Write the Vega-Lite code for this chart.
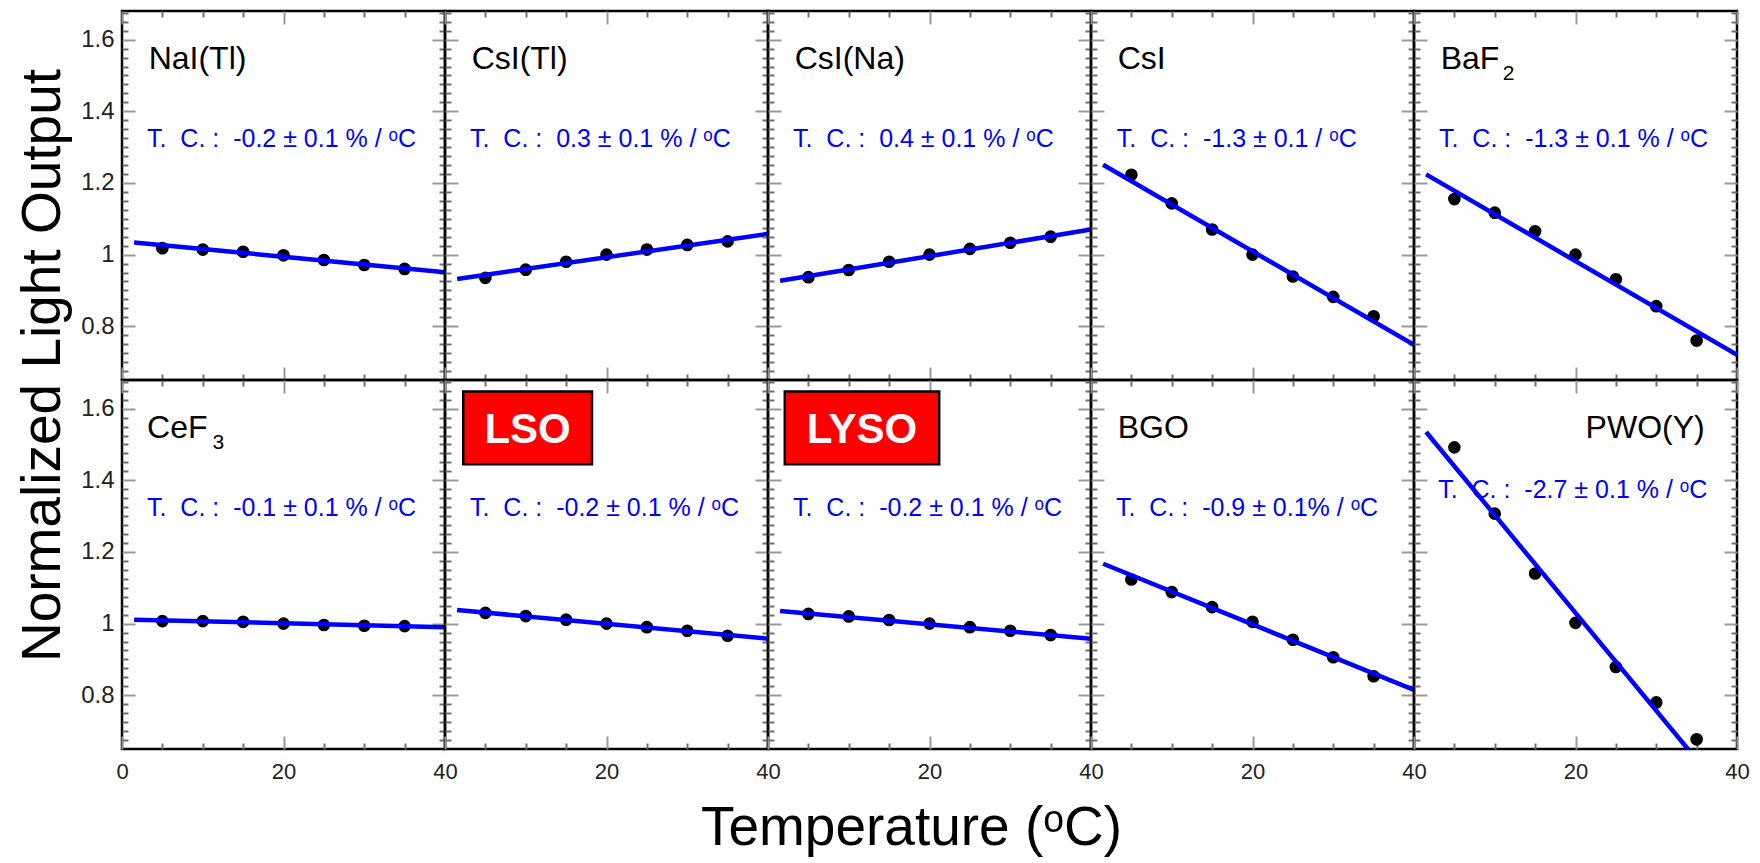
{
  "$schema": "https://vega.github.io/schema/vega-lite/v6.json",
  "background": "white",
  "padding": {"left": 13, "top": 8, "right": 5, "bottom": 0},
  "columns": 5,
  "spacing": 0,
  "bounds": "flush",
  "datasets": {
    "pts": [
      {"crystal": "NaI", "temp": 5, "lo": 1.018}, {"crystal": "NaI", "temp": 10, "lo": 1.014}, {"crystal": "NaI", "temp": 15, "lo": 1.008}, {"crystal": "NaI", "temp": 20, "lo": 0.998}, {"crystal": "NaI", "temp": 25, "lo": 0.985}, {"crystal": "NaI", "temp": 30, "lo": 0.971}, {"crystal": "NaI", "temp": 35, "lo": 0.960},
      {"crystal": "CsITl", "temp": 5, "lo": 0.935}, {"crystal": "CsITl", "temp": 10, "lo": 0.958}, {"crystal": "CsITl", "temp": 15, "lo": 0.980}, {"crystal": "CsITl", "temp": 20, "lo": 1.0}, {"crystal": "CsITl", "temp": 25, "lo": 1.014}, {"crystal": "CsITl", "temp": 30, "lo": 1.027}, {"crystal": "CsITl", "temp": 35, "lo": 1.037},
      {"crystal": "CsINa", "temp": 5, "lo": 0.937}, {"crystal": "CsINa", "temp": 10, "lo": 0.957}, {"crystal": "CsINa", "temp": 15, "lo": 0.980}, {"crystal": "CsINa", "temp": 20, "lo": 1.0}, {"crystal": "CsINa", "temp": 25, "lo": 1.016}, {"crystal": "CsINa", "temp": 30, "lo": 1.033}, {"crystal": "CsINa", "temp": 35, "lo": 1.050},
      {"crystal": "CsI", "temp": 5, "lo": 1.223}, {"crystal": "CsI", "temp": 10, "lo": 1.143}, {"crystal": "CsI", "temp": 15, "lo": 1.070}, {"crystal": "CsI", "temp": 20, "lo": 1.0}, {"crystal": "CsI", "temp": 25, "lo": 0.939}, {"crystal": "CsI", "temp": 30, "lo": 0.882}, {"crystal": "CsI", "temp": 35, "lo": 0.828},
      {"crystal": "BaF2", "temp": 5, "lo": 1.155}, {"crystal": "BaF2", "temp": 10, "lo": 1.117}, {"crystal": "BaF2", "temp": 15, "lo": 1.065}, {"crystal": "BaF2", "temp": 20, "lo": 1.0}, {"crystal": "BaF2", "temp": 25, "lo": 0.931}, {"crystal": "BaF2", "temp": 30, "lo": 0.856}, {"crystal": "BaF2", "temp": 35, "lo": 0.760},
      {"crystal": "CeF3", "temp": 5, "lo": 1.007}, {"crystal": "CeF3", "temp": 10, "lo": 1.007}, {"crystal": "CeF3", "temp": 15, "lo": 1.005}, {"crystal": "CeF3", "temp": 20, "lo": 1.0}, {"crystal": "CeF3", "temp": 25, "lo": 0.996}, {"crystal": "CeF3", "temp": 30, "lo": 0.994}, {"crystal": "CeF3", "temp": 35, "lo": 0.993},
      {"crystal": "LSO", "temp": 5, "lo": 1.030}, {"crystal": "LSO", "temp": 10, "lo": 1.021}, {"crystal": "LSO", "temp": 15, "lo": 1.011}, {"crystal": "LSO", "temp": 20, "lo": 1.0}, {"crystal": "LSO", "temp": 25, "lo": 0.990}, {"crystal": "LSO", "temp": 30, "lo": 0.980}, {"crystal": "LSO", "temp": 35, "lo": 0.966},
      {"crystal": "LYSO", "temp": 5, "lo": 1.027}, {"crystal": "LYSO", "temp": 10, "lo": 1.020}, {"crystal": "LYSO", "temp": 15, "lo": 1.010}, {"crystal": "LYSO", "temp": 20, "lo": 1.0}, {"crystal": "LYSO", "temp": 25, "lo": 0.990}, {"crystal": "LYSO", "temp": 30, "lo": 0.980}, {"crystal": "LYSO", "temp": 35, "lo": 0.968},
      {"crystal": "BGO", "temp": 5, "lo": 1.123}, {"crystal": "BGO", "temp": 10, "lo": 1.088}, {"crystal": "BGO", "temp": 15, "lo": 1.046}, {"crystal": "BGO", "temp": 20, "lo": 1.005}, {"crystal": "BGO", "temp": 25, "lo": 0.955}, {"crystal": "BGO", "temp": 30, "lo": 0.906}, {"crystal": "BGO", "temp": 35, "lo": 0.853},
      {"crystal": "PWO", "temp": 5, "lo": 1.492}, {"crystal": "PWO", "temp": 10, "lo": 1.307}, {"crystal": "PWO", "temp": 15, "lo": 1.140}, {"crystal": "PWO", "temp": 20, "lo": 1.002}, {"crystal": "PWO", "temp": 25, "lo": 0.879}, {"crystal": "PWO", "temp": 30, "lo": 0.780}, {"crystal": "PWO", "temp": 35, "lo": 0.677}
    ],
    "fit": [
      {"crystal": "NaI", "temp": 1.5, "lo": 1.034}, {"crystal": "NaI", "temp": 40, "lo": 0.951},
      {"crystal": "CsITl", "temp": 1.5, "lo": 0.932}, {"crystal": "CsITl", "temp": 40, "lo": 1.058},
      {"crystal": "CsINa", "temp": 1.5, "lo": 0.927}, {"crystal": "CsINa", "temp": 40, "lo": 1.070},
      {"crystal": "CsI", "temp": 1.5, "lo": 1.251}, {"crystal": "CsI", "temp": 40, "lo": 0.748},
      {"crystal": "BaF2", "temp": 1.5, "lo": 1.224}, {"crystal": "BaF2", "temp": 40, "lo": 0.720},
      {"crystal": "CeF3", "temp": 1.5, "lo": 1.011}, {"crystal": "CeF3", "temp": 40, "lo": 0.990},
      {"crystal": "LSO", "temp": 1.5, "lo": 1.038}, {"crystal": "LSO", "temp": 40, "lo": 0.958},
      {"crystal": "LYSO", "temp": 1.5, "lo": 1.035}, {"crystal": "LYSO", "temp": 40, "lo": 0.958},
      {"crystal": "BGO", "temp": 1.5, "lo": 1.167}, {"crystal": "BGO", "temp": 40, "lo": 0.815},
      {"crystal": "PWO", "temp": 1.5, "lo": 1.535}, {"crystal": "PWO", "temp": 40, "lo": 0.484}
    ],
    "info": [
      {"crystal": "NaI", "name": "NaI(Tl)", "sub": "", "tc": "T.\u00a0\u00a0C.\u00a0:\u00a0\u00a0-0.2\u00a0±\u00a00.1\u00a0%\u00a0/\u00a0ᵒC"},
      {"crystal": "CsITl", "name": "CsI(Tl)", "sub": "", "tc": "T.\u00a0\u00a0C.\u00a0:\u00a0\u00a00.3\u00a0±\u00a00.1\u00a0%\u00a0/\u00a0ᵒC"},
      {"crystal": "CsINa", "name": "CsI(Na)", "sub": "", "tc": "T.\u00a0\u00a0C.\u00a0:\u00a0\u00a00.4\u00a0±\u00a00.1\u00a0%\u00a0/\u00a0ᵒC"},
      {"crystal": "CsI", "name": "CsI", "sub": "", "tc": "T.\u00a0\u00a0C.\u00a0:\u00a0\u00a0-1.3\u00a0±\u00a00.1\u00a0/\u00a0ᵒC"},
      {"crystal": "BaF2", "name": "BaF", "sub": "2", "tc": "T.\u00a0\u00a0C.\u00a0:\u00a0\u00a0-1.3\u00a0±\u00a00.1\u00a0%\u00a0/\u00a0ᵒC"},
      {"crystal": "CeF3", "name": "CeF", "sub": "3", "tc": "T.\u00a0\u00a0C.\u00a0:\u00a0\u00a0-0.1\u00a0±\u00a00.1\u00a0%\u00a0/\u00a0ᵒC"},
      {"crystal": "LSO", "name": "LSO", "sub": "", "tc": "T.\u00a0\u00a0C.\u00a0:\u00a0\u00a0-0.2\u00a0±\u00a00.1\u00a0%\u00a0/\u00a0ᵒC"},
      {"crystal": "LYSO", "name": "LYSO", "sub": "", "tc": "T.\u00a0\u00a0C.\u00a0:\u00a0\u00a0-0.2\u00a0±\u00a00.1\u00a0%\u00a0/\u00a0ᵒC"},
      {"crystal": "BGO", "name": "BGO", "sub": "", "tc": "T.\u00a0\u00a0C.\u00a0:\u00a0\u00a0-0.9\u00a0±\u00a00.1%\u00a0/\u00a0ᵒC"},
      {"crystal": "PWO", "name": "PWO(Y)", "sub": "", "tc": "T.\u00a0\u00a0C.\u00a0:\u00a0\u00a0-2.7\u00a0±\u00a00.1\u00a0%\u00a0/\u00a0ᵒC"}
    ]
  },
  "concat": [
    {
      "width": 323, "height": 369,
      "layer": [
        {"data": {"name": "pts"}, "transform": [{"filter": "datum.crystal === 'NaI'"}],
         "mark": {"type": "circle", "color": "black", "size": 160, "opacity": 1},
         "encoding": {
           "x": {"field": "temp", "type": "quantitative", "scale": {"domain": [0, 40], "nice": false}, "axis": {"orient": "bottom", "values": [0, 20, 40], "tickSize": -13, "tickColor": "#999999", "labels": false, "title": null}},
           "y": {"field": "lo", "type": "quantitative", "scale": {"domain": [0.65, 1.68], "nice": false, "zero": false}, "axis": {"orient": "left", "values": [0.8, 1, 1.2, 1.4, 1.6], "tickSize": -13, "tickColor": "#999999", "labels": true, "labelExpr": "format(datum.value, '.1~f')", "labelPadding": 21, "title": "Normalized Light Output", "titleX": -80, "titleY": 354, "titleAngle": -90, "titleAlign": "center", "titleBaseline": "middle"}}
         }},
        {"data": {"name": "fit"}, "transform": [{"filter": "datum.crystal === 'NaI'"}],
         "mark": {"type": "line", "color": "#0000ff", "strokeWidth": 4.5, "clip": true},
         "encoding": {
           "x": {"field": "temp", "type": "quantitative", "axis": {"orient": "bottom", "values": [5, 10, 15, 25, 30, 35], "tickSize": -6, "labels": false, "title": null}},
           "y": {"field": "lo", "type": "quantitative", "axis": {"orient": "left", "values": [0.675,0.7,0.725,0.75,0.775,0.825,0.85,0.875,0.9,0.925,0.95,0.975,1.025,1.05,1.075,1.1,1.125,1.15,1.175,1.225,1.25,1.275,1.3,1.325,1.35,1.375,1.425,1.45,1.475,1.5,1.525,1.55,1.575,1.625,1.65,1.675], "tickSize": -6, "labels": false, "title": null}}
         }},
        {"data": {"name": "info"}, "transform": [{"filter": "datum.crystal === 'NaI'"}],
         "mark": {"type": "text", "align": "left", "baseline": "alphabetic", "fontSize": 32, "color": "black"},
         "encoding": {
           "x": {"datum": 3.3, "type": "quantitative", "axis": {"orient": "top", "values": [0, 20, 40], "tickSize": -13, "tickColor": "#999999", "labels": false, "title": null}},
           "y": {"datum": 1.517, "type": "quantitative", "axis": {"orient": "right", "values": [0.8, 1, 1.2, 1.4, 1.6], "tickSize": -13, "tickColor": "#999999", "labels": false, "title": null}},
           "text": {"field": "name"}}},
        {"data": {"name": "info"}, "transform": [{"filter": "datum.crystal === 'NaI'"}],
         "mark": {"type": "text", "align": "left", "baseline": "alphabetic", "fontSize": 25, "color": "#0000ff"},
         "encoding": {
           "x": {"datum": 3.1, "type": "quantitative", "axis": {"orient": "top", "values": [5, 10, 15, 25, 30, 35], "tickSize": -6, "labels": false, "title": null}},
           "y": {"datum": 1.30, "type": "quantitative", "axis": {"orient": "right", "values": [0.675,0.7,0.725,0.75,0.775,0.825,0.85,0.875,0.9,0.925,0.95,0.975,1.025,1.05,1.075,1.1,1.125,1.15,1.175,1.225,1.25,1.275,1.3,1.325,1.35,1.375,1.425,1.45,1.475,1.5,1.525,1.55,1.575,1.625,1.65,1.675], "tickSize": -6, "labels": false, "title": null}},
           "text": {"field": "tc"}}}
      ],
      "resolve": {"axis": {"x": "independent", "y": "independent"}}
    },
    {
      "width": 323, "height": 369,
      "layer": [
        {"data": {"name": "pts"}, "transform": [{"filter": "datum.crystal === 'CsITl'"}],
         "mark": {"type": "circle", "color": "black", "size": 160, "opacity": 1},
         "encoding": {
           "x": {"field": "temp", "type": "quantitative", "scale": {"domain": [0, 40], "nice": false}, "axis": {"orient": "bottom", "values": [0, 20, 40], "tickSize": -13, "tickColor": "#999999", "labels": false, "title": null}},
           "y": {"field": "lo", "type": "quantitative", "scale": {"domain": [0.65, 1.68], "nice": false, "zero": false}, "axis": {"orient": "left", "values": [0.8, 1, 1.2, 1.4, 1.6], "tickSize": -13, "tickColor": "#999999", "labels": false, "title": null}}
         }},
        {"data": {"name": "fit"}, "transform": [{"filter": "datum.crystal === 'CsITl'"}],
         "mark": {"type": "line", "color": "#0000ff", "strokeWidth": 4.5, "clip": true},
         "encoding": {
           "x": {"field": "temp", "type": "quantitative", "axis": {"orient": "bottom", "values": [5, 10, 15, 25, 30, 35], "tickSize": -6, "labels": false, "title": null}},
           "y": {"field": "lo", "type": "quantitative", "axis": {"orient": "left", "values": [0.675,0.7,0.725,0.75,0.775,0.825,0.85,0.875,0.9,0.925,0.95,0.975,1.025,1.05,1.075,1.1,1.125,1.15,1.175,1.225,1.25,1.275,1.3,1.325,1.35,1.375,1.425,1.45,1.475,1.5,1.525,1.55,1.575,1.625,1.65,1.675], "tickSize": -6, "labels": false, "title": null}}
         }},
        {"data": {"name": "info"}, "transform": [{"filter": "datum.crystal === 'CsITl'"}],
         "mark": {"type": "text", "align": "left", "baseline": "alphabetic", "fontSize": 32, "color": "black"},
         "encoding": {
           "x": {"datum": 3.3, "type": "quantitative", "axis": {"orient": "top", "values": [0, 20, 40], "tickSize": -13, "tickColor": "#999999", "labels": false, "title": null}},
           "y": {"datum": 1.517, "type": "quantitative", "axis": {"orient": "right", "values": [0.8, 1, 1.2, 1.4, 1.6], "tickSize": -13, "tickColor": "#999999", "labels": false, "title": null}},
           "text": {"field": "name"}}},
        {"data": {"name": "info"}, "transform": [{"filter": "datum.crystal === 'CsITl'"}],
         "mark": {"type": "text", "align": "left", "baseline": "alphabetic", "fontSize": 25, "color": "#0000ff"},
         "encoding": {
           "x": {"datum": 3.1, "type": "quantitative", "axis": {"orient": "top", "values": [5, 10, 15, 25, 30, 35], "tickSize": -6, "labels": false, "title": null}},
           "y": {"datum": 1.30, "type": "quantitative", "axis": {"orient": "right", "values": [0.675,0.7,0.725,0.75,0.775,0.825,0.85,0.875,0.9,0.925,0.95,0.975,1.025,1.05,1.075,1.1,1.125,1.15,1.175,1.225,1.25,1.275,1.3,1.325,1.35,1.375,1.425,1.45,1.475,1.5,1.525,1.55,1.575,1.625,1.65,1.675], "tickSize": -6, "labels": false, "title": null}},
           "text": {"field": "tc"}}}
      ],
      "resolve": {"axis": {"x": "independent", "y": "independent"}}
    },
    {
      "width": 323, "height": 369,
      "layer": [
        {"data": {"name": "pts"}, "transform": [{"filter": "datum.crystal === 'CsINa'"}],
         "mark": {"type": "circle", "color": "black", "size": 160, "opacity": 1},
         "encoding": {
           "x": {"field": "temp", "type": "quantitative", "scale": {"domain": [0, 40], "nice": false}, "axis": {"orient": "bottom", "values": [0, 20, 40], "tickSize": -13, "tickColor": "#999999", "labels": false, "title": null}},
           "y": {"field": "lo", "type": "quantitative", "scale": {"domain": [0.65, 1.68], "nice": false, "zero": false}, "axis": {"orient": "left", "values": [0.8, 1, 1.2, 1.4, 1.6], "tickSize": -13, "tickColor": "#999999", "labels": false, "title": null}}
         }},
        {"data": {"name": "fit"}, "transform": [{"filter": "datum.crystal === 'CsINa'"}],
         "mark": {"type": "line", "color": "#0000ff", "strokeWidth": 4.5, "clip": true},
         "encoding": {
           "x": {"field": "temp", "type": "quantitative", "axis": {"orient": "bottom", "values": [5, 10, 15, 25, 30, 35], "tickSize": -6, "labels": false, "title": null}},
           "y": {"field": "lo", "type": "quantitative", "axis": {"orient": "left", "values": [0.675,0.7,0.725,0.75,0.775,0.825,0.85,0.875,0.9,0.925,0.95,0.975,1.025,1.05,1.075,1.1,1.125,1.15,1.175,1.225,1.25,1.275,1.3,1.325,1.35,1.375,1.425,1.45,1.475,1.5,1.525,1.55,1.575,1.625,1.65,1.675], "tickSize": -6, "labels": false, "title": null}}
         }},
        {"data": {"name": "info"}, "transform": [{"filter": "datum.crystal === 'CsINa'"}],
         "mark": {"type": "text", "align": "left", "baseline": "alphabetic", "fontSize": 32, "color": "black"},
         "encoding": {
           "x": {"datum": 3.3, "type": "quantitative", "axis": {"orient": "top", "values": [0, 20, 40], "tickSize": -13, "tickColor": "#999999", "labels": false, "title": null}},
           "y": {"datum": 1.517, "type": "quantitative", "axis": {"orient": "right", "values": [0.8, 1, 1.2, 1.4, 1.6], "tickSize": -13, "tickColor": "#999999", "labels": false, "title": null}},
           "text": {"field": "name"}}},
        {"data": {"name": "info"}, "transform": [{"filter": "datum.crystal === 'CsINa'"}],
         "mark": {"type": "text", "align": "left", "baseline": "alphabetic", "fontSize": 25, "color": "#0000ff"},
         "encoding": {
           "x": {"datum": 3.1, "type": "quantitative", "axis": {"orient": "top", "values": [5, 10, 15, 25, 30, 35], "tickSize": -6, "labels": false, "title": null}},
           "y": {"datum": 1.30, "type": "quantitative", "axis": {"orient": "right", "values": [0.675,0.7,0.725,0.75,0.775,0.825,0.85,0.875,0.9,0.925,0.95,0.975,1.025,1.05,1.075,1.1,1.125,1.15,1.175,1.225,1.25,1.275,1.3,1.325,1.35,1.375,1.425,1.45,1.475,1.5,1.525,1.55,1.575,1.625,1.65,1.675], "tickSize": -6, "labels": false, "title": null}},
           "text": {"field": "tc"}}}
      ],
      "resolve": {"axis": {"x": "independent", "y": "independent"}}
    },
    {
      "width": 323, "height": 369,
      "layer": [
        {"data": {"name": "pts"}, "transform": [{"filter": "datum.crystal === 'CsI'"}],
         "mark": {"type": "circle", "color": "black", "size": 160, "opacity": 1},
         "encoding": {
           "x": {"field": "temp", "type": "quantitative", "scale": {"domain": [0, 40], "nice": false}, "axis": {"orient": "bottom", "values": [0, 20, 40], "tickSize": -13, "tickColor": "#999999", "labels": false, "title": null}},
           "y": {"field": "lo", "type": "quantitative", "scale": {"domain": [0.65, 1.68], "nice": false, "zero": false}, "axis": {"orient": "left", "values": [0.8, 1, 1.2, 1.4, 1.6], "tickSize": -13, "tickColor": "#999999", "labels": false, "title": null}}
         }},
        {"data": {"name": "fit"}, "transform": [{"filter": "datum.crystal === 'CsI'"}],
         "mark": {"type": "line", "color": "#0000ff", "strokeWidth": 4.5, "clip": true},
         "encoding": {
           "x": {"field": "temp", "type": "quantitative", "axis": {"orient": "bottom", "values": [5, 10, 15, 25, 30, 35], "tickSize": -6, "labels": false, "title": null}},
           "y": {"field": "lo", "type": "quantitative", "axis": {"orient": "left", "values": [0.675,0.7,0.725,0.75,0.775,0.825,0.85,0.875,0.9,0.925,0.95,0.975,1.025,1.05,1.075,1.1,1.125,1.15,1.175,1.225,1.25,1.275,1.3,1.325,1.35,1.375,1.425,1.45,1.475,1.5,1.525,1.55,1.575,1.625,1.65,1.675], "tickSize": -6, "labels": false, "title": null}}
         }},
        {"data": {"name": "info"}, "transform": [{"filter": "datum.crystal === 'CsI'"}],
         "mark": {"type": "text", "align": "left", "baseline": "alphabetic", "fontSize": 32, "color": "black"},
         "encoding": {
           "x": {"datum": 3.3, "type": "quantitative", "axis": {"orient": "top", "values": [0, 20, 40], "tickSize": -13, "tickColor": "#999999", "labels": false, "title": null}},
           "y": {"datum": 1.517, "type": "quantitative", "axis": {"orient": "right", "values": [0.8, 1, 1.2, 1.4, 1.6], "tickSize": -13, "tickColor": "#999999", "labels": false, "title": null}},
           "text": {"field": "name"}}},
        {"data": {"name": "info"}, "transform": [{"filter": "datum.crystal === 'CsI'"}],
         "mark": {"type": "text", "align": "left", "baseline": "alphabetic", "fontSize": 25, "color": "#0000ff"},
         "encoding": {
           "x": {"datum": 3.2, "type": "quantitative", "axis": {"orient": "top", "values": [5, 10, 15, 25, 30, 35], "tickSize": -6, "labels": false, "title": null}},
           "y": {"datum": 1.30, "type": "quantitative", "axis": {"orient": "right", "values": [0.675,0.7,0.725,0.75,0.775,0.825,0.85,0.875,0.9,0.925,0.95,0.975,1.025,1.05,1.075,1.1,1.125,1.15,1.175,1.225,1.25,1.275,1.3,1.325,1.35,1.375,1.425,1.45,1.475,1.5,1.525,1.55,1.575,1.625,1.65,1.675], "tickSize": -6, "labels": false, "title": null}},
           "text": {"field": "tc"}}}
      ],
      "resolve": {"axis": {"x": "independent", "y": "independent"}}
    },
    {
      "width": 323, "height": 369,
      "layer": [
        {"data": {"name": "pts"}, "transform": [{"filter": "datum.crystal === 'BaF2'"}],
         "mark": {"type": "circle", "color": "black", "size": 160, "opacity": 1},
         "encoding": {
           "x": {"field": "temp", "type": "quantitative", "scale": {"domain": [0, 40], "nice": false}, "axis": {"orient": "bottom", "values": [0, 20, 40], "tickSize": -13, "tickColor": "#999999", "labels": false, "title": null}},
           "y": {"field": "lo", "type": "quantitative", "scale": {"domain": [0.65, 1.68], "nice": false, "zero": false}, "axis": {"orient": "left", "values": [0.8, 1, 1.2, 1.4, 1.6], "tickSize": -13, "tickColor": "#999999", "labels": false, "title": null}}
         }},
        {"data": {"name": "fit"}, "transform": [{"filter": "datum.crystal === 'BaF2'"}],
         "mark": {"type": "line", "color": "#0000ff", "strokeWidth": 4.5, "clip": true},
         "encoding": {
           "x": {"field": "temp", "type": "quantitative", "axis": {"orient": "bottom", "values": [5, 10, 15, 25, 30, 35], "tickSize": -6, "labels": false, "title": null}},
           "y": {"field": "lo", "type": "quantitative", "axis": {"orient": "left", "values": [0.675,0.7,0.725,0.75,0.775,0.825,0.85,0.875,0.9,0.925,0.95,0.975,1.025,1.05,1.075,1.1,1.125,1.15,1.175,1.225,1.25,1.275,1.3,1.325,1.35,1.375,1.425,1.45,1.475,1.5,1.525,1.55,1.575,1.625,1.65,1.675], "tickSize": -6, "labels": false, "title": null}}
         }},
        {"data": {"name": "info"}, "transform": [{"filter": "datum.crystal === 'BaF2'"}],
         "mark": {"type": "text", "align": "left", "baseline": "alphabetic", "fontSize": 32, "color": "black"},
         "encoding": {
           "x": {"datum": 3.3, "type": "quantitative", "axis": {"orient": "top", "values": [0, 20, 40], "tickSize": -13, "tickColor": "#999999", "labels": false, "title": null}},
           "y": {"datum": 1.517, "type": "quantitative", "axis": {"orient": "right", "values": [0.8, 1, 1.2, 1.4, 1.6], "tickSize": -13, "tickColor": "#999999", "labels": false, "title": null}},
           "text": {"field": "name"}}},
        {"data": {"name": "info"}, "transform": [{"filter": "datum.crystal === 'BaF2'"}],
         "mark": {"type": "text", "align": "left", "baseline": "alphabetic", "fontSize": 21, "color": "black"},
         "encoding": {"x": {"datum": 11.0, "type": "quantitative", "axis": null}, "y": {"datum": 1.488, "type": "quantitative", "axis": null}, "text": {"field": "sub"}}},
        {"data": {"name": "info"}, "transform": [{"filter": "datum.crystal === 'BaF2'"}],
         "mark": {"type": "text", "align": "left", "baseline": "alphabetic", "fontSize": 25, "color": "#0000ff"},
         "encoding": {
           "x": {"datum": 3.1, "type": "quantitative", "axis": {"orient": "top", "values": [5, 10, 15, 25, 30, 35], "tickSize": -6, "labels": false, "title": null}},
           "y": {"datum": 1.30, "type": "quantitative", "axis": {"orient": "right", "values": [0.675,0.7,0.725,0.75,0.775,0.825,0.85,0.875,0.9,0.925,0.95,0.975,1.025,1.05,1.075,1.1,1.125,1.15,1.175,1.225,1.25,1.275,1.3,1.325,1.35,1.375,1.425,1.45,1.475,1.5,1.525,1.55,1.575,1.625,1.65,1.675], "tickSize": -6, "labels": false, "title": null}},
           "text": {"field": "tc"}}}
      ],
      "resolve": {"axis": {"x": "independent", "y": "independent"}}
    },
    {
      "width": 323, "height": 369,
      "layer": [
        {"data": {"name": "pts"}, "transform": [{"filter": "datum.crystal === 'CeF3'"}],
         "mark": {"type": "circle", "color": "black", "size": 160, "opacity": 1},
         "encoding": {
           "x": {"field": "temp", "type": "quantitative", "scale": {"domain": [0, 40], "nice": false}, "axis": {"orient": "bottom", "values": [0, 20, 40], "tickSize": -13, "tickColor": "#999999", "labels": true, "labelPadding": 25, "title": null}},
           "y": {"field": "lo", "type": "quantitative", "scale": {"domain": [0.65, 1.68], "nice": false, "zero": false}, "axis": {"orient": "left", "values": [0.8, 1, 1.2, 1.4, 1.6], "tickSize": -13, "tickColor": "#999999", "labels": true, "labelExpr": "format(datum.value, '.1~f')", "labelPadding": 21, "title": null}}
         }},
        {"data": {"name": "fit"}, "transform": [{"filter": "datum.crystal === 'CeF3'"}],
         "mark": {"type": "line", "color": "#0000ff", "strokeWidth": 4.5, "clip": true},
         "encoding": {
           "x": {"field": "temp", "type": "quantitative", "axis": {"orient": "bottom", "values": [5, 10, 15, 25, 30, 35], "tickSize": -6, "labels": false, "title": null}},
           "y": {"field": "lo", "type": "quantitative", "axis": {"orient": "left", "values": [0.675,0.7,0.725,0.75,0.775,0.825,0.85,0.875,0.9,0.925,0.95,0.975,1.025,1.05,1.075,1.1,1.125,1.15,1.175,1.225,1.25,1.275,1.3,1.325,1.35,1.375,1.425,1.45,1.475,1.5,1.525,1.55,1.575,1.625,1.65,1.675], "tickSize": -6, "labels": false, "title": null}}
         }},
        {"data": {"name": "info"}, "transform": [{"filter": "datum.crystal === 'CeF3'"}],
         "mark": {"type": "text", "align": "left", "baseline": "alphabetic", "fontSize": 32, "color": "black"},
         "encoding": {
           "x": {"datum": 3.1, "type": "quantitative", "axis": {"orient": "top", "values": [0, 20, 40], "tickSize": -13, "tickColor": "#999999", "labels": false, "title": null}},
           "y": {"datum": 1.517, "type": "quantitative", "axis": {"orient": "right", "values": [0.8, 1, 1.2, 1.4, 1.6], "tickSize": -13, "tickColor": "#999999", "labels": false, "title": null}},
           "text": {"field": "name"}}},
        {"data": {"name": "info"}, "transform": [{"filter": "datum.crystal === 'CeF3'"}],
         "mark": {"type": "text", "align": "left", "baseline": "alphabetic", "fontSize": 21, "color": "black"},
         "encoding": {"x": {"datum": 11.2, "type": "quantitative", "axis": null}, "y": {"datum": 1.488, "type": "quantitative", "axis": null}, "text": {"field": "sub"}}},
        {"data": {"name": "info"}, "transform": [{"filter": "datum.crystal === 'CeF3'"}],
         "mark": {"type": "text", "align": "left", "baseline": "alphabetic", "fontSize": 25, "color": "#0000ff"},
         "encoding": {
           "x": {"datum": 3.1, "type": "quantitative", "axis": {"orient": "top", "values": [5, 10, 15, 25, 30, 35], "tickSize": -6, "labels": false, "title": null}},
           "y": {"datum": 1.30, "type": "quantitative", "axis": {"orient": "right", "values": [0.675,0.7,0.725,0.75,0.775,0.825,0.85,0.875,0.9,0.925,0.95,0.975,1.025,1.05,1.075,1.1,1.125,1.15,1.175,1.225,1.25,1.275,1.3,1.325,1.35,1.375,1.425,1.45,1.475,1.5,1.525,1.55,1.575,1.625,1.65,1.675], "tickSize": -6, "labels": false, "title": null}},
           "text": {"field": "tc"}}}
      ],
      "resolve": {"axis": {"x": "independent", "y": "independent"}}
    },
    {
      "width": 323, "height": 369,
      "layer": [
        {"data": {"name": "pts"}, "transform": [{"filter": "datum.crystal === 'LSO'"}],
         "mark": {"type": "circle", "color": "black", "size": 160, "opacity": 1},
         "encoding": {
           "x": {"field": "temp", "type": "quantitative", "scale": {"domain": [0, 40], "nice": false}, "axis": {"orient": "bottom", "values": [0, 20, 40], "tickSize": -13, "tickColor": "#999999", "labels": true, "labelExpr": "datum.value > 0 ? datum.label : ''", "labelPadding": 25, "title": null}},
           "y": {"field": "lo", "type": "quantitative", "scale": {"domain": [0.65, 1.68], "nice": false, "zero": false}, "axis": {"orient": "left", "values": [0.8, 1, 1.2, 1.4, 1.6], "tickSize": -13, "tickColor": "#999999", "labels": false, "title": null}}
         }},
        {"data": {"name": "fit"}, "transform": [{"filter": "datum.crystal === 'LSO'"}],
         "mark": {"type": "line", "color": "#0000ff", "strokeWidth": 4.5, "clip": true},
         "encoding": {
           "x": {"field": "temp", "type": "quantitative", "axis": {"orient": "bottom", "values": [5, 10, 15, 25, 30, 35], "tickSize": -6, "labels": false, "title": null}},
           "y": {"field": "lo", "type": "quantitative", "axis": {"orient": "left", "values": [0.675,0.7,0.725,0.75,0.775,0.825,0.85,0.875,0.9,0.925,0.95,0.975,1.025,1.05,1.075,1.1,1.125,1.15,1.175,1.225,1.25,1.275,1.3,1.325,1.35,1.375,1.425,1.45,1.475,1.5,1.525,1.55,1.575,1.625,1.65,1.675], "tickSize": -6, "labels": false, "title": null}}
         }},
        {"data": {"name": "info"}, "transform": [{"filter": "datum.crystal === 'LSO'"}],
         "mark": {"type": "rect", "color": "#ff0000", "stroke": "black", "strokeWidth": 2.5, "opacity": 1},
         "encoding": {
           "x": {"datum": 2.26, "type": "quantitative", "axis": {"orient": "top", "values": [0, 20, 40], "tickSize": -13, "tickColor": "#999999", "labels": false, "title": null}},
           "x2": {"datum": 18.2},
           "y": {"datum": 1.648, "type": "quantitative", "axis": {"orient": "right", "values": [0.8, 1, 1.2, 1.4, 1.6], "tickSize": -13, "tickColor": "#999999", "labels": false, "title": null}},
           "y2": {"datum": 1.445}}},
        {"data": {"name": "info"}, "transform": [{"filter": "datum.crystal === 'LSO'"}],
         "mark": {"type": "text", "align": "center", "baseline": "alphabetic", "fontSize": 42, "fontWeight": "bold", "color": "#f8f8f8"},
         "encoding": {"x": {"datum": 10.23, "type": "quantitative", "axis": null}, "y": {"datum": 1.504, "type": "quantitative", "axis": null}, "text": {"field": "name"}}},
        {"data": {"name": "info"}, "transform": [{"filter": "datum.crystal === 'LSO'"}],
         "mark": {"type": "text", "align": "left", "baseline": "alphabetic", "fontSize": 25, "color": "#0000ff"},
         "encoding": {
           "x": {"datum": 3.1, "type": "quantitative", "axis": {"orient": "top", "values": [5, 10, 15, 25, 30, 35], "tickSize": -6, "labels": false, "title": null}},
           "y": {"datum": 1.30, "type": "quantitative", "axis": {"orient": "right", "values": [0.675,0.7,0.725,0.75,0.775,0.825,0.85,0.875,0.9,0.925,0.95,0.975,1.025,1.05,1.075,1.1,1.125,1.15,1.175,1.225,1.25,1.275,1.3,1.325,1.35,1.375,1.425,1.45,1.475,1.5,1.525,1.55,1.575,1.625,1.65,1.675], "tickSize": -6, "labels": false, "title": null}},
           "text": {"field": "tc"}}}
      ],
      "resolve": {"axis": {"x": "independent", "y": "independent"}}
    },
    {
      "width": 323, "height": 369,
      "layer": [
        {"data": {"name": "pts"}, "transform": [{"filter": "datum.crystal === 'LYSO'"}],
         "mark": {"type": "circle", "color": "black", "size": 160, "opacity": 1},
         "encoding": {
           "x": {"field": "temp", "type": "quantitative", "scale": {"domain": [0, 40], "nice": false}, "axis": {"orient": "bottom", "values": [0, 20, 40], "tickSize": -13, "tickColor": "#999999", "labels": true, "labelExpr": "datum.value > 0 ? datum.label : ''", "labelPadding": 25, "title": "Temperature (ᵒC)", "titleX": 143, "titleY": 95, "titleAlign": "center", "titleBaseline": "alphabetic"}},
           "y": {"field": "lo", "type": "quantitative", "scale": {"domain": [0.65, 1.68], "nice": false, "zero": false}, "axis": {"orient": "left", "values": [0.8, 1, 1.2, 1.4, 1.6], "tickSize": -13, "tickColor": "#999999", "labels": false, "title": null}}
         }},
        {"data": {"name": "fit"}, "transform": [{"filter": "datum.crystal === 'LYSO'"}],
         "mark": {"type": "line", "color": "#0000ff", "strokeWidth": 4.5, "clip": true},
         "encoding": {
           "x": {"field": "temp", "type": "quantitative", "axis": {"orient": "bottom", "values": [5, 10, 15, 25, 30, 35], "tickSize": -6, "labels": false, "title": null}},
           "y": {"field": "lo", "type": "quantitative", "axis": {"orient": "left", "values": [0.675,0.7,0.725,0.75,0.775,0.825,0.85,0.875,0.9,0.925,0.95,0.975,1.025,1.05,1.075,1.1,1.125,1.15,1.175,1.225,1.25,1.275,1.3,1.325,1.35,1.375,1.425,1.45,1.475,1.5,1.525,1.55,1.575,1.625,1.65,1.675], "tickSize": -6, "labels": false, "title": null}}
         }},
        {"data": {"name": "info"}, "transform": [{"filter": "datum.crystal === 'LYSO'"}],
         "mark": {"type": "rect", "color": "#ff0000", "stroke": "black", "strokeWidth": 2.5, "opacity": 1},
         "encoding": {
           "x": {"datum": 2.08, "type": "quantitative", "axis": {"orient": "top", "values": [0, 20, 40], "tickSize": -13, "tickColor": "#999999", "labels": false, "title": null}},
           "x2": {"datum": 21.2},
           "y": {"datum": 1.648, "type": "quantitative", "axis": {"orient": "right", "values": [0.8, 1, 1.2, 1.4, 1.6], "tickSize": -13, "tickColor": "#999999", "labels": false, "title": null}},
           "y2": {"datum": 1.445}}},
        {"data": {"name": "info"}, "transform": [{"filter": "datum.crystal === 'LYSO'"}],
         "mark": {"type": "text", "align": "center", "baseline": "alphabetic", "fontSize": 42, "fontWeight": "bold", "color": "#f8f8f8"},
         "encoding": {"x": {"datum": 11.64, "type": "quantitative", "axis": null}, "y": {"datum": 1.504, "type": "quantitative", "axis": null}, "text": {"field": "name"}}},
        {"data": {"name": "info"}, "transform": [{"filter": "datum.crystal === 'LYSO'"}],
         "mark": {"type": "text", "align": "left", "baseline": "alphabetic", "fontSize": 25, "color": "#0000ff"},
         "encoding": {
           "x": {"datum": 3.1, "type": "quantitative", "axis": {"orient": "top", "values": [5, 10, 15, 25, 30, 35], "tickSize": -6, "labels": false, "title": null}},
           "y": {"datum": 1.30, "type": "quantitative", "axis": {"orient": "right", "values": [0.675,0.7,0.725,0.75,0.775,0.825,0.85,0.875,0.9,0.925,0.95,0.975,1.025,1.05,1.075,1.1,1.125,1.15,1.175,1.225,1.25,1.275,1.3,1.325,1.35,1.375,1.425,1.45,1.475,1.5,1.525,1.55,1.575,1.625,1.65,1.675], "tickSize": -6, "labels": false, "title": null}},
           "text": {"field": "tc"}}}
      ],
      "resolve": {"axis": {"x": "independent", "y": "independent"}}
    },
    {
      "width": 323, "height": 369,
      "layer": [
        {"data": {"name": "pts"}, "transform": [{"filter": "datum.crystal === 'BGO'"}],
         "mark": {"type": "circle", "color": "black", "size": 160, "opacity": 1},
         "encoding": {
           "x": {"field": "temp", "type": "quantitative", "scale": {"domain": [0, 40], "nice": false}, "axis": {"orient": "bottom", "values": [0, 20, 40], "tickSize": -13, "tickColor": "#999999", "labels": true, "labelExpr": "datum.value > 0 ? datum.label : ''", "labelPadding": 25, "title": null}},
           "y": {"field": "lo", "type": "quantitative", "scale": {"domain": [0.65, 1.68], "nice": false, "zero": false}, "axis": {"orient": "left", "values": [0.8, 1, 1.2, 1.4, 1.6], "tickSize": -13, "tickColor": "#999999", "labels": false, "title": null}}
         }},
        {"data": {"name": "fit"}, "transform": [{"filter": "datum.crystal === 'BGO'"}],
         "mark": {"type": "line", "color": "#0000ff", "strokeWidth": 4.5, "clip": true},
         "encoding": {
           "x": {"field": "temp", "type": "quantitative", "axis": {"orient": "bottom", "values": [5, 10, 15, 25, 30, 35], "tickSize": -6, "labels": false, "title": null}},
           "y": {"field": "lo", "type": "quantitative", "axis": {"orient": "left", "values": [0.675,0.7,0.725,0.75,0.775,0.825,0.85,0.875,0.9,0.925,0.95,0.975,1.025,1.05,1.075,1.1,1.125,1.15,1.175,1.225,1.25,1.275,1.3,1.325,1.35,1.375,1.425,1.45,1.475,1.5,1.525,1.55,1.575,1.625,1.65,1.675], "tickSize": -6, "labels": false, "title": null}}
         }},
        {"data": {"name": "info"}, "transform": [{"filter": "datum.crystal === 'BGO'"}],
         "mark": {"type": "text", "align": "left", "baseline": "alphabetic", "fontSize": 32, "color": "black"},
         "encoding": {
           "x": {"datum": 3.3, "type": "quantitative", "axis": {"orient": "top", "values": [0, 20, 40], "tickSize": -13, "tickColor": "#999999", "labels": false, "title": null}},
           "y": {"datum": 1.517, "type": "quantitative", "axis": {"orient": "right", "values": [0.8, 1, 1.2, 1.4, 1.6], "tickSize": -13, "tickColor": "#999999", "labels": false, "title": null}},
           "text": {"field": "name"}}},
        {"data": {"name": "info"}, "transform": [{"filter": "datum.crystal === 'BGO'"}],
         "mark": {"type": "text", "align": "left", "baseline": "alphabetic", "fontSize": 25, "color": "#0000ff"},
         "encoding": {
           "x": {"datum": 3.1, "type": "quantitative", "axis": {"orient": "top", "values": [5, 10, 15, 25, 30, 35], "tickSize": -6, "labels": false, "title": null}},
           "y": {"datum": 1.30, "type": "quantitative", "axis": {"orient": "right", "values": [0.675,0.7,0.725,0.75,0.775,0.825,0.85,0.875,0.9,0.925,0.95,0.975,1.025,1.05,1.075,1.1,1.125,1.15,1.175,1.225,1.25,1.275,1.3,1.325,1.35,1.375,1.425,1.45,1.475,1.5,1.525,1.55,1.575,1.625,1.65,1.675], "tickSize": -6, "labels": false, "title": null}},
           "text": {"field": "tc"}}}
      ],
      "resolve": {"axis": {"x": "independent", "y": "independent"}}
    },
    {
      "width": 323, "height": 369,
      "layer": [
        {"data": {"name": "pts"}, "transform": [{"filter": "datum.crystal === 'PWO'"}],
         "mark": {"type": "circle", "color": "black", "size": 160, "opacity": 1},
         "encoding": {
           "x": {"field": "temp", "type": "quantitative", "scale": {"domain": [0, 40], "nice": false}, "axis": {"orient": "bottom", "values": [0, 20, 40], "tickSize": -13, "tickColor": "#999999", "labels": true, "labelExpr": "datum.value > 0 ? datum.label : ''", "labelPadding": 25, "title": null}},
           "y": {"field": "lo", "type": "quantitative", "scale": {"domain": [0.65, 1.68], "nice": false, "zero": false}, "axis": {"orient": "left", "values": [0.8, 1, 1.2, 1.4, 1.6], "tickSize": -13, "tickColor": "#999999", "labels": false, "title": null}}
         }},
        {"data": {"name": "fit"}, "transform": [{"filter": "datum.crystal === 'PWO'"}],
         "mark": {"type": "line", "color": "#0000ff", "strokeWidth": 4.5, "clip": true},
         "encoding": {
           "x": {"field": "temp", "type": "quantitative", "axis": {"orient": "bottom", "values": [5, 10, 15, 25, 30, 35], "tickSize": -6, "labels": false, "title": null}},
           "y": {"field": "lo", "type": "quantitative", "axis": {"orient": "left", "values": [0.675,0.7,0.725,0.75,0.775,0.825,0.85,0.875,0.9,0.925,0.95,0.975,1.025,1.05,1.075,1.1,1.125,1.15,1.175,1.225,1.25,1.275,1.3,1.325,1.35,1.375,1.425,1.45,1.475,1.5,1.525,1.55,1.575,1.625,1.65,1.675], "tickSize": -6, "labels": false, "title": null}}
         }},
        {"data": {"name": "info"}, "transform": [{"filter": "datum.crystal === 'PWO'"}],
         "mark": {"type": "text", "align": "right", "baseline": "alphabetic", "fontSize": 32, "color": "black"},
         "encoding": {
           "x": {"datum": 36, "type": "quantitative", "axis": {"orient": "top", "values": [0, 20, 40], "tickSize": -13, "tickColor": "#999999", "labels": false, "title": null}},
           "y": {"datum": 1.517, "type": "quantitative", "axis": {"orient": "right", "values": [0.8, 1, 1.2, 1.4, 1.6], "tickSize": -13, "tickColor": "#999999", "labels": false, "title": null}},
           "text": {"field": "name"}}},
        {"data": {"name": "info"}, "transform": [{"filter": "datum.crystal === 'PWO'"}],
         "mark": {"type": "text", "align": "left", "baseline": "alphabetic", "fontSize": 25, "color": "#0000ff"},
         "encoding": {
           "x": {"datum": 3.0, "type": "quantitative", "axis": {"orient": "top", "values": [5, 10, 15, 25, 30, 35], "tickSize": -6, "labels": false, "title": null}},
           "y": {"datum": 1.35, "type": "quantitative", "axis": {"orient": "right", "values": [0.675,0.7,0.725,0.75,0.775,0.825,0.85,0.875,0.9,0.925,0.95,0.975,1.025,1.05,1.075,1.1,1.125,1.15,1.175,1.225,1.25,1.275,1.3,1.325,1.35,1.375,1.425,1.45,1.475,1.5,1.525,1.55,1.575,1.625,1.65,1.675], "tickSize": -6, "labels": false, "title": null}},
           "text": {"field": "tc"}}}
      ],
      "resolve": {"axis": {"x": "independent", "y": "independent"}}
    }
  ],
  "config": {
    "font": "Liberation Sans",
    "view": {"stroke": "black", "strokeWidth": 2.5},
    "text": {"font": "Liberation Sans"},
    "axis": {
      "domain": false, "grid": false, "tickColor": "#707070", "tickWidth": 2,
      "labelFont": "Liberation Sans", "labelColor": "#222222",
      "labelFlush": false, "labelOverlap": false, "labelBound": false,
      "titleFont": "Liberation Sans", "titleFontSize": 55, "titleFontWeight": "normal", "titleColor": "black"
    },
    "axisX": {"labelFontSize": 22},
    "axisY": {"labelFontSize": 24}
  }
}
